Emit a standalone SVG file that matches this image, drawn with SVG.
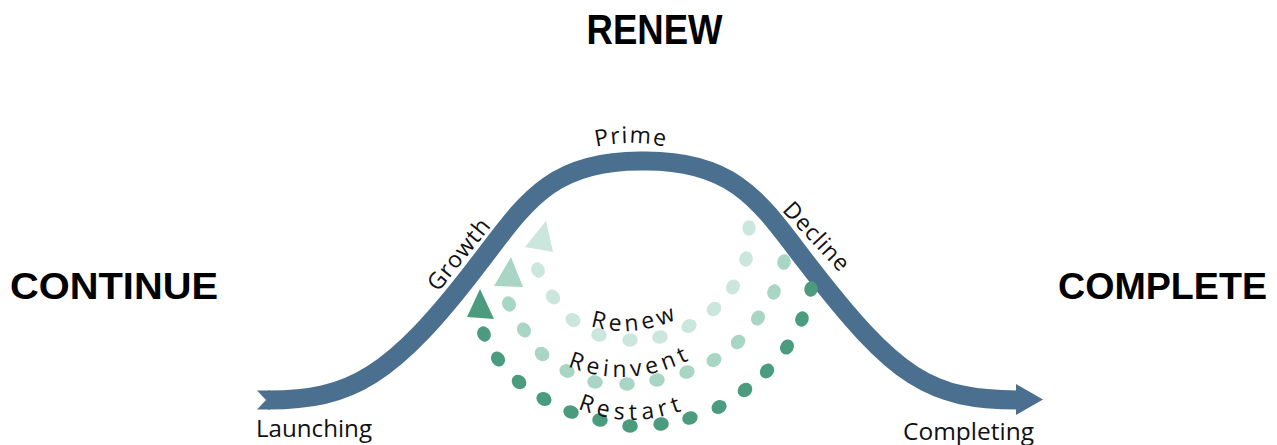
<svg xmlns="http://www.w3.org/2000/svg" width="1277" height="445" viewBox="0 0 1277 445">
<style>
.band{fill:none;stroke:#4b6f8e;stroke-width:19}
.bandfill{fill:#4b6f8e}
.big{font-family:"Liberation Sans",Arial,sans-serif;font-weight:bold;fill:#000}
.lbl{font-family:"Open Sans","Liberation Sans",sans-serif;font-size:23px;fill:#111}
.arc{font-family:"Open Sans","Liberation Sans",sans-serif;font-size:23px;fill:#111}
.light{fill:#cbe6dc}
.mid{fill:#a8d5c4}
.dark{fill:#4b9b7f}
</style>
<defs>
<path id="pPrime" d="M 588,149 Q 631,137 674,149"/>
<path id="pRenew" d="M 578,321 Q 630,345 692,312"/>
<path id="pReinvent" d="M 556,361 Q 628,397 704,352"/>
<path id="pRestart" d="M 568,404 Q 630,435 696,405"/>
<ellipse id="dot" cx="0" cy="0" rx="7.8" ry="6.7"/>
</defs>

<g id="titles">
<text class="big" x="654.5" y="44" font-size="43" text-anchor="middle" textLength="136" lengthAdjust="spacingAndGlyphs">RENEW</text>
<text class="big" x="10" y="299" font-size="36" textLength="208" lengthAdjust="spacingAndGlyphs">CONTINUE</text>
<text class="big" x="1058" y="299" font-size="36" textLength="209" lengthAdjust="spacingAndGlyphs">COMPLETE</text>
</g>

<g id="lifecycle-curve">
<polygon class="bandfill" points="257,390.5 270,390.5 270,409.5 257,409.5 266,400"/>
<path class="band" d="M 268,400 C 350,400 392,378 480,262 C 525,203.5 550,161 640,161 L 646,161 C 736,161 761,203.5 806,262 C 896,379 930,400 1020,400"/>
<polygon class="bandfill" points="1016,384 1043,399.5 1016,415"/>
</g>

<g id="stage-labels">
<text class="lbl" x="256" y="437" textLength="116" lengthAdjust="spacingAndGlyphs">Launching</text>
<text class="lbl" x="903" y="440" textLength="131" lengthAdjust="spacingAndGlyphs">Completing</text>
<text class="lbl" letter-spacing="1.5"><textPath href="#pPrime" startOffset="50%" text-anchor="middle">Prime</textPath></text>
<text class="lbl" transform="translate(465,259) rotate(-51)" text-anchor="middle" letter-spacing="1">Growth</text>
<text class="lbl" transform="translate(811,242) rotate(47)" text-anchor="middle" letter-spacing="1">Decline</text>
</g>

<g id="connectors">
<g id="renew-loop" class="light">
<polygon points="546,221 525,247 553,252"/>
<use href="#dot" transform="translate(538,270) rotate(65)"/>
<use href="#dot" transform="translate(553,297) rotate(50)"/>
<use href="#dot" transform="translate(573,320) rotate(35)"/>
<use href="#dot" transform="translate(599,335) rotate(15)"/>
<use href="#dot" transform="translate(630,340)"/>
<use href="#dot" transform="translate(660,337) rotate(-12)"/>
<use href="#dot" transform="translate(689,326) rotate(-30)"/>
<use href="#dot" transform="translate(714,309) rotate(-45)"/>
<use href="#dot" transform="translate(733,287) rotate(-60)"/>
<use href="#dot" transform="translate(746,259) rotate(-75)"/>
<use href="#dot" transform="translate(749,228) rotate(-90)"/>
</g>
<g id="reinvent-loop" class="mid">
<polygon points="511,257 494,286 523,287"/>
<use href="#dot" transform="translate(509,304) rotate(65)"/>
<use href="#dot" transform="translate(524,330) rotate(55)"/>
<use href="#dot" transform="translate(542,354) rotate(40)"/>
<use href="#dot" transform="translate(567,371) rotate(25)"/>
<use href="#dot" transform="translate(595,382) rotate(10)"/>
<use href="#dot" transform="translate(627,384)"/>
<use href="#dot" transform="translate(657,380) rotate(-10)"/>
<use href="#dot" transform="translate(687,372) rotate(-20)"/>
<use href="#dot" transform="translate(714,360) rotate(-35)"/>
<use href="#dot" transform="translate(738,342) rotate(-45)"/>
<use href="#dot" transform="translate(758,318) rotate(-60)"/>
<use href="#dot" transform="translate(774,292) rotate(-70)"/>
<use href="#dot" transform="translate(784,262) rotate(-80)"/>
</g>
<g id="restart-loop" class="dark">
<polygon points="480,289 467,317 494,319"/>
<use href="#dot" transform="translate(484,334) rotate(65)"/>
<use href="#dot" transform="translate(498,359) rotate(55)"/>
<use href="#dot" transform="translate(519,382) rotate(40)"/>
<use href="#dot" transform="translate(544,399) rotate(28)"/>
<use href="#dot" transform="translate(571,412) rotate(18)"/>
<use href="#dot" transform="translate(600,420) rotate(8)"/>
<use href="#dot" transform="translate(630,426)"/>
<use href="#dot" transform="translate(661,424) rotate(-8)"/>
<use href="#dot" transform="translate(690,418) rotate(-18)"/>
<use href="#dot" transform="translate(719,407) rotate(-30)"/>
<use href="#dot" transform="translate(745,390) rotate(-40)"/>
<use href="#dot" transform="translate(767,371) rotate(-50)"/>
<use href="#dot" transform="translate(787,347) rotate(-60)"/>
<use href="#dot" transform="translate(802,319) rotate(-70)"/>
<use href="#dot" transform="translate(811,289) rotate(-82)"/>
</g>
</g>

<g id="loop-labels">
<text class="arc" letter-spacing="4"><textPath href="#pRenew" startOffset="50%" text-anchor="middle">Renew</textPath></text>
<text class="arc" letter-spacing="4.5"><textPath href="#pReinvent" startOffset="50%" text-anchor="middle">Reinvent</textPath></text>
<text class="arc" letter-spacing="5"><textPath href="#pRestart" startOffset="50%" text-anchor="middle">Restart</textPath></text>
</g>
</svg>
